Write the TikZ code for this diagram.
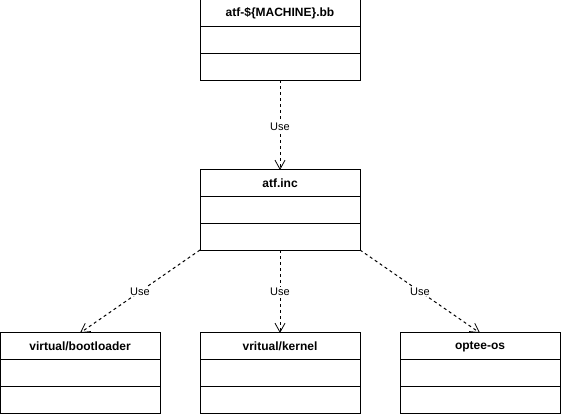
\documentclass[tikz,border=0pt]{standalone}
\usepackage{fontspec}
\setmainfont{Liberation Sans}
\usetikzlibrary{arrows.meta,positioning}

\begin{document}
\begin{tikzpicture}[x=1pt, y=-1pt, line width=1pt,
  >={Straight Barb[length=9pt,width=10pt,line width=0.8pt]},
  head/.style={draw, outer sep=0pt, inner sep=0pt, minimum width=160pt,
    minimum height=26.67pt, font=\fontsize{12}{14}\selectfont\bfseries},
  row/.style={draw, outer sep=0pt, inner sep=0pt, minimum width=160pt,
    minimum height=26.67pt, below=0pt of #1},
  use/.style={->, dash pattern=on 3pt off 3pt},
  lbl/.style={fill=white, inner sep=1pt, font=\fontsize{11}{13}\selectfont}]
  \useasboundingbox (0,0) rectangle (561,414);
  % recipe
  \node[head] (bbhead) at (280,13.33) {atf-\$\{MACHINE\}.bb};
  \node[row=bbhead] (bbattr) {};
  \node[row=bbattr] (bbops) {};
  % include file
  \node[head] (inchead) at (280,183.33) {atf.inc};
  \node[row=inchead] (incattr) {};
  \node[row=incattr] (incops) {};
  % used classes
  \node[head] (boothead) at (80,346.33) {virtual/bootloader};
  \node[row=boothead] (bootattr) {};
  \node[row=bootattr] (bootops) {};
  \node[head] (kernhead) at (280,346.33) {vritual/kernel};
  \node[row=kernhead] (kernattr) {};
  \node[row=kernattr] (kernops) {};
  \node[head] (opteehead) at (480,346.33) {optee-os};
  \node[row=opteehead] (opteeattr) {};
  \node[row=opteeattr] (opteeops) {};
  % dependencies
  \draw[use] (bbops.south) -- node[lbl, pos=0.52] {Use} (inchead.north);
  \draw[use] (incops.south west) -- node[lbl] {Use} (boothead.north);
  \draw[use] (incops.south) -- node[lbl] {Use} (kernhead.north);
  \draw[use] (incops.south east) -- node[lbl] {Use} (opteehead.north);
\end{tikzpicture}
\end{document}
